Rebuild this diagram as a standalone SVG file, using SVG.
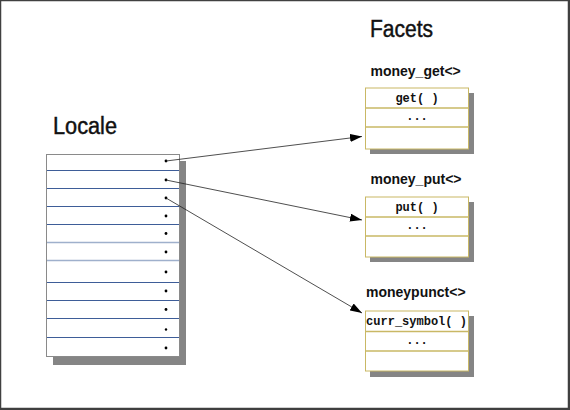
<svg xmlns="http://www.w3.org/2000/svg" width="570" height="410" viewBox="0 0 570 410">
<defs>
<style>
.title{font-family:"Liberation Sans",Arial,sans-serif;font-size:23px;fill:#111;stroke:#111;stroke-width:0.45}
.lbl{font-family:"Liberation Sans",Arial,sans-serif;font-size:14px;font-weight:bold;fill:#111}
.mono{font-family:"Liberation Mono","Courier New",monospace;font-size:12px;font-weight:bold;fill:#111;text-anchor:middle}
.shadow{fill:#858585}
.fbox{fill:#fff;stroke:#c9b865;stroke-width:1}
.fline{stroke:#c9b865;stroke-width:1.3}
.lbox{fill:#fff;stroke:#8a8a8a;stroke-width:1}
.bl{stroke:#3e5d98;stroke-width:1}
.bll{stroke:#9fb0cc;stroke-width:1.3}
.dot{fill:#000}
.conn{stroke:#222;stroke-width:0.8;fill:none;marker-end:url(#ah)}
</style>
<marker id="ah" viewBox="0 0 12 8" refX="12" refY="4" markerWidth="12" markerHeight="8" markerUnits="userSpaceOnUse" orient="auto">
<path d="M0,0 L12,4 L0,8 Z" fill="#000"/>
</marker>
</defs>
<rect x="0" y="0" width="570" height="410" fill="#fff"/>
<rect x="0.5" y="0.5" width="568" height="408" fill="none" stroke="#404040" stroke-width="1.5"/>
<rect x="568" y="0" width="2" height="410" fill="#404040"/>
<rect x="0" y="408" width="570" height="2" fill="#404040"/>

<text class="title" x="53" y="134" textLength="64" lengthAdjust="spacingAndGlyphs">Locale</text>
<text class="title" x="370" y="37" textLength="63" lengthAdjust="spacingAndGlyphs">Facets</text>

<g id="locale">
<rect class="shadow" x="53" y="161" width="133" height="204"/>
<rect class="lbox" x="46.5" y="154.5" width="133" height="202"/>
<line class="bl" x1="47" y1="170.5" x2="179" y2="170.5"/>
<line class="bl" x1="47" y1="188.5" x2="179" y2="188.5"/>
<line class="bl" x1="47" y1="206.5" x2="179" y2="206.5"/>
<line class="bl" x1="47" y1="224.5" x2="179" y2="224.5"/>
<line class="bll" x1="47" y1="242.5" x2="179" y2="242.5"/>
<line class="bll" x1="47" y1="260.5" x2="179" y2="260.5"/>
<line class="bl" x1="47" y1="282.5" x2="179" y2="282.5"/>
<line class="bl" x1="47" y1="300.5" x2="179" y2="300.5"/>
<line class="bl" x1="47" y1="318.5" x2="179" y2="318.5"/>
<line class="bl" x1="47" y1="337.5" x2="179" y2="337.5"/>
<circle class="dot" cx="166" cy="161" r="1.4"/>
<circle class="dot" cx="166" cy="180" r="1.4"/>
<circle class="dot" cx="166" cy="198" r="1.4"/>
<circle class="dot" cx="166" cy="216" r="1.4"/>
<circle class="dot" cx="166" cy="233.5" r="1.4"/>
<circle class="dot" cx="166" cy="252" r="1.4"/>
<circle class="dot" cx="166" cy="272" r="1.4"/>
<circle class="dot" cx="166" cy="291" r="1.4"/>
<circle class="dot" cx="166" cy="309.5" r="1.4"/>
<circle class="dot" cx="166" cy="329.5" r="1.2"/>
<circle class="dot" cx="166" cy="348" r="1.4"/>
</g>

<g id="money_get">
<text class="lbl" x="370.5" y="76">money_get&lt;&gt;</text>
<rect class="shadow" x="370" y="93" width="104" height="61"/>
<rect class="fbox" x="365.5" y="88" width="103" height="61"/>
<line class="fline" x1="366" y1="108" x2="468" y2="108"/>
<line class="fline" x1="366" y1="127" x2="468" y2="127"/>
<text class="mono" x="417" y="102">get( )</text>
<text class="mono" x="417" y="120">...</text>
</g>

<g id="money_put">
<text class="lbl" x="370.5" y="184">money_put&lt;&gt;</text>
<rect class="shadow" x="370" y="202" width="104" height="60"/>
<rect class="fbox" x="365.5" y="197" width="103" height="60"/>
<line class="fline" x1="366" y1="217" x2="468" y2="217"/>
<line class="fline" x1="366" y1="236" x2="468" y2="236"/>
<text class="mono" x="417" y="211">put( )</text>
<text class="mono" x="417" y="229">...</text>
</g>

<g id="moneypunct">
<text class="lbl" x="366" y="297">moneypunct&lt;&gt;</text>
<rect class="shadow" x="370" y="316" width="104" height="61"/>
<rect class="fbox" x="365.5" y="311" width="103" height="60"/>
<line class="fline" x1="366" y1="331.5" x2="468" y2="331.5"/>
<line class="fline" x1="366" y1="351" x2="468" y2="351"/>
<text class="mono" x="416.5" y="325">curr_symbol( )</text>
<text class="mono" x="417" y="344">...</text>
</g>

<g id="connectors">
<line class="conn" x1="166" y1="161" x2="362" y2="136.5"/>
<line class="conn" x1="166" y1="180" x2="362" y2="220"/>
<line class="conn" x1="166" y1="198" x2="362" y2="313"/>
</g>
</svg>
